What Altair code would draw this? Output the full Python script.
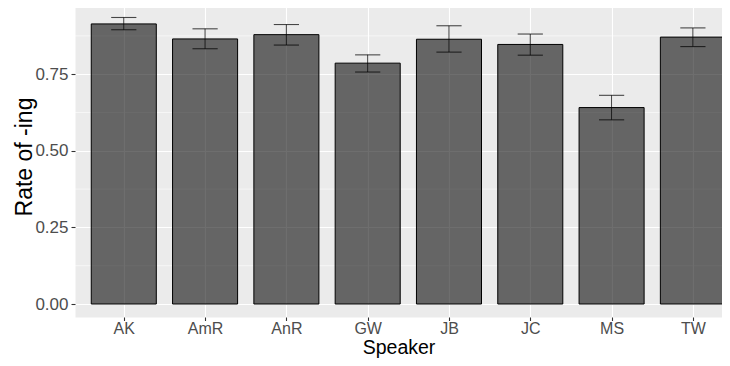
import altair as alt
import pandas as pd

speakers = ["AK", "AmR", "AnR", "GW", "JB", "JC", "MS", "TW"]
rate = [0.914, 0.865, 0.879, 0.786, 0.864, 0.847, 0.641, 0.871]
lower = [0.895, 0.833, 0.845, 0.757, 0.822, 0.812, 0.601, 0.840]
upper = [0.935, 0.898, 0.912, 0.813, 0.908, 0.881, 0.681, 0.901]
y_ticks = [0.0, 0.25, 0.5, 0.75]
y_minor = [0.125, 0.375, 0.625, 0.875]

positions = list(range(1, len(speakers) + 1))
df = pd.DataFrame({"pos": positions, "Speaker": speakers, "rate": rate,
                   "lo": lower, "hi": upper})
minor_df = pd.DataFrame({"v": y_minor})

FONT = "Liberation Sans"
label_expr = "[" + ",".join("'%s'" % s for s in speakers) + "][datum.value - 1]"

xscale = alt.Scale(domain=[0.4, 8.358], nice=False, zero=False)
yscale = alt.Scale(domain=[-0.0424, 0.979], nice=False, zero=False)

xaxis = alt.Axis(title="Speaker", values=positions, labelExpr=label_expr,
                 grid=True, gridColor="white", gridWidth=1.1,
                 domain=False, tickColor="#333333", tickSize=3.5,
                 tickWidth=1.1, labelColor="#4D4D4D", labelFontSize=16, labelFont=FONT,
                 labelPadding=0, labelAngle=0, labelFlush=False, labelOverlap=False,
                 titleFontSize=19.5, titleFont=FONT, titleBaseline="alphabetic",
                 titleY=36.5, titleColor="black", titleFontWeight="normal")
yaxis = alt.Axis(title="Rate of -ing", values=y_ticks, format=".2f", grid=True,
                 gridColor="white", gridWidth=1.1, domain=False, tickColor="#333333",
                 tickSize=4, tickWidth=1.1, labelColor="#4D4D4D", labelFontSize=17,
                 labelFont=FONT, labelPadding=3, titleFontSize=23, titleFont=FONT,
                 titleBaseline="alphabetic", titleX=-44, titleY=152.5,
                 titleColor="black", titleFontWeight="normal")

minor = alt.Chart(minor_df).mark_rule(color="white", strokeWidth=0.55).encode(
    y=alt.Y("v:Q", scale=yscale, axis=yaxis)
)

base = alt.Chart(df)

bars = base.transform_calculate(
    left="datum.pos - 0.4", right="datum.pos + 0.4"
).mark_bar(fill="black", fillOpacity=0.57, stroke="black", strokeWidth=1).encode(
    x=alt.X("left:Q", scale=xscale, axis=xaxis),
    x2="right:Q",
    y=alt.Y("rate:Q", scale=yscale, axis=yaxis),
    y2=alt.datum(0),
)

err = base.mark_rule(color="black", opacity=0.7, strokeWidth=1.1).encode(
    x=alt.X("pos:Q", scale=xscale, axis=xaxis),
    y=alt.Y("lo:Q", scale=yscale, axis=yaxis),
    y2="hi:Q",
)
caps = base.transform_fold(["lo", "hi"], as_=["end", "val"]).transform_calculate(
    cl="datum.pos - 0.155", cr="datum.pos + 0.155"
).mark_rule(color="black", opacity=0.7, strokeWidth=1.1).encode(
    x=alt.X("cl:Q", scale=xscale, axis=xaxis),
    x2="cr:Q",
    y=alt.Y("val:Q", scale=yscale, axis=yaxis),
)

chart = alt.layer(minor, bars, err, caps).properties(
    width=647, height=313,
    autosize=alt.AutoSizeParams(type="none"),
    padding={"left": 67, "top": -4, "right": 0, "bottom": 41},
).configure_view(fill="#EBEBEB", stroke="transparent")

chart.save("out.html", embed_options={"renderer": "svg", "actions": False})
